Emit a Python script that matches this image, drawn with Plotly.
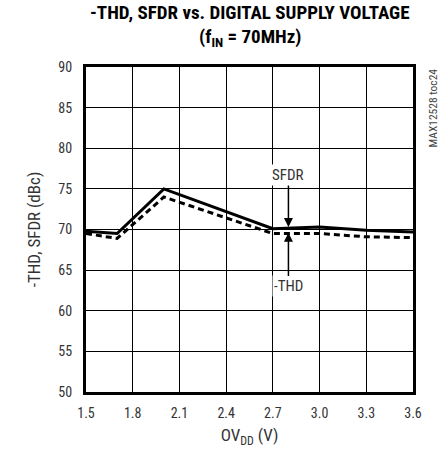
import plotly.graph_objects as go

ovdd = [1.5, 1.7, 2.0, 2.7, 3.0, 3.3, 3.6]
sfdr = [69.8, 69.5, 75.0, 70.1, 70.3, 69.9, 69.7]
thd = [69.5, 68.9, 74.0, 69.5, 69.5, 69.1, 69.0]
xticks = [1.5, 1.8, 2.1, 2.4, 2.7, 3.0, 3.3, 3.6]
xticklabels = ["1.5", "1.8", "2.1", "2.4", "2.7", "3.0", "3.3", "3.6"]
yticks = [50, 55, 60, 65, 70, 75, 80, 85, 90]

FONT = "Liberation Sans Narrow, Roboto Condensed, Arial Narrow, Liberation Sans, sans-serif"

fig = go.Figure()
fig.add_trace(go.Scatter(x=ovdd, y=sfdr, mode="lines", line=dict(color="black", width=3), name="SFDR"))
fig.add_trace(go.Scatter(x=ovdd, y=thd, mode="lines", line=dict(color="black", width=3, dash="6px,4px"), name="-THD"))

fig.add_annotation(x=2.8, y=70.3, ax=2.8, ay=76.7, xref="x", yref="y", axref="x", ayref="y",
                   text="SFDR", showarrow=True, arrowhead=2, arrowsize=1.2, arrowwidth=1.5,
                   arrowcolor="black", standoff=0, startstandoff=0,
                   font=dict(size=15, color="#333"), bgcolor="white")
fig.add_annotation(x=2.8, y=69.6, ax=2.8, ay=63.0, xref="x", yref="y", axref="x", ayref="y",
                   text="-THD", showarrow=True, arrowhead=2, arrowsize=1.2, arrowwidth=1.5,
                   arrowcolor="black", standoff=0, startstandoff=0,
                   font=dict(size=15, color="#333"), bgcolor="white")

fig.add_annotation(x=1.0, y=1.0, xref="paper", yref="paper", xanchor="left", yanchor="top",
                   xshift=10, text="MAX12528 toc24", textangle=-90, showarrow=False,
                   font=dict(size=11.5, color="#444"))

# title lines
fig.add_annotation(x=0.5, y=1.0, xref="paper", yref="paper", xanchor="center", yanchor="bottom",
                   yshift=41, text="<b>-THD, SFDR vs. DIGITAL SUPPLY VOLTAGE</b>", showarrow=False,
                   font=dict(family=FONT, size=19, color="black"))
fig.add_annotation(x=0.5, y=1.0, xref="paper", yref="paper", xanchor="center", yanchor="bottom",
                   yshift=15, text="<b>(f<sub>IN</sub> = 70MHz)</b>", showarrow=False,
                   font=dict(family=FONT, size=19, color="black"))

fig.update_layout(
    width=444, height=457,
    margin=dict(l=86, r=31, t=67, b=65),
    paper_bgcolor="white", plot_bgcolor="white",
    showlegend=False,
    font=dict(family=FONT, color="#333", size=14),
    xaxis=dict(range=[1.5, 3.6], tickvals=xticks, ticktext=xticklabels, showgrid=True,
               gridcolor="black", gridwidth=1, zeroline=False, showline=True, linecolor="black",
               linewidth=3, mirror=True, ticks="", ticklabelstandoff=6,
               title=dict(text="OV<sub>DD</sub> (V)", standoff=10),
               tickfont=dict(size=14)),
    yaxis=dict(range=[50, 90], tickvals=yticks, showgrid=True, gridcolor="black", gridwidth=1,
               zeroline=False, showline=True, linecolor="black", linewidth=3, mirror=True, ticks="",
               ticklabelstandoff=8,
               title=dict(text="-THD, SFDR (dBc)", standoff=14), tickfont=dict(size=14)),
)

fig.write_html("out.html")
